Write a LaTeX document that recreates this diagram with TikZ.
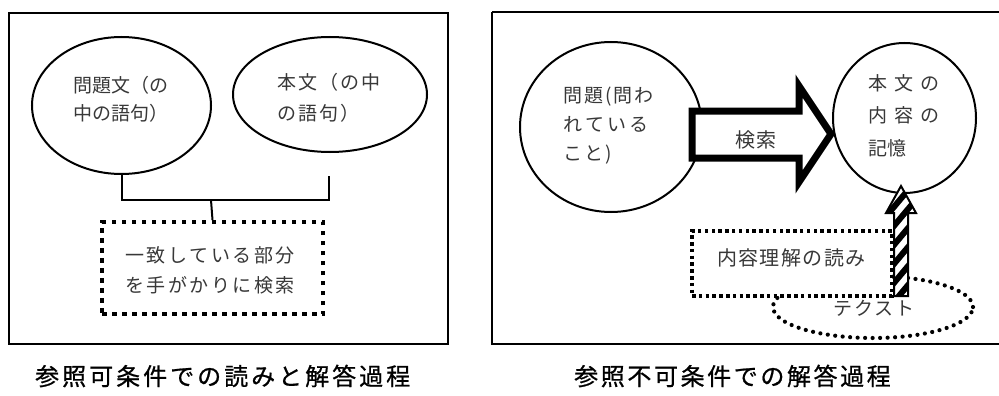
\documentclass[tikz,border=0pt]{standalone}
\usepackage{fontspec}
\setmainfont{Noto Sans CJK JP}
\newfontfamily\capfont[FakeBold=0.8]{Noto Sans CJK JP}
\usetikzlibrary{shapes.geometric}
\makeatletter
\newcommand\lsp[2]{\@tfor\lsp@c:=#2\do{\lsp@c\kern#1\relax}\unkern}
\makeatother
\tikzset{
  frame/.style={draw, line width=1.6pt},
  oval/.style={ellipse, draw, line width=2pt, inner sep=0pt, fill=white},
  lbl/.style={inner sep=0pt, align=left, text=black!78},
  sqdotbox/.style={rectangle, draw, line width=4pt, dash pattern=on 4.5pt off 5.5pt, fill=white, inner sep=0pt},
  smdotbox/.style={rectangle, draw, line width=3.5pt, dash pattern=on 3.5pt off 3.3pt, fill=white, inner sep=0pt},
  rnddots/.style={ellipse, draw, line width=4.2pt, line cap=round, dash pattern=on 0pt off 7.5pt, inner sep=0pt},
  wire/.style={draw, line width=2pt},
  caption/.style={inner sep=0pt, anchor=west, font=\capfont\fontsize{24}{24}\selectfont}
}
\begin{document}
\begin{tikzpicture}[x=1pt,y=-1pt]
\useasboundingbox (0,0) rectangle (999,396);
\fill[white] (0,0) rectangle (999,396);

% ---------- left panel ----------
\draw[frame] (9,13) rectangle (448,344);
\node[oval, minimum width=179pt, minimum height=137pt] (e1) at (121.5,105.5) {};
\node[oval, minimum width=194pt, minimum height=115pt] (e2) at (330,94.5) {};
\node[sqdotbox, minimum width=221pt, minimum height=92pt] (sb) at (212.5,268) {};
\coordinate (jn) at (211,200);
\coordinate (rt) at (329,176);
\draw[wire] (e1.south) |- (jn) -| (rt);
\draw[wire] (jn) -- (sb.north);

\node[lbl, anchor=west, font=\fontsize{19}{28}\selectfont] (t1) at (73,99)
  {\lsp{0pt}{問題文（の}\\\lsp{0pt}{中の語句）}};
\node[lbl, anchor=west, font=\fontsize{19}{31}\selectfont] (t2) at (277,97.5)
  {\lsp{2.2pt}{本文（の中}\\\lsp{2.2pt}{の語句）}};
\node[lbl, anchor=west, font=\fontsize{19}{30}\selectfont] (t3) at (125,270)
  {\lsp{2.5pt}{一致している部分}\\\lsp{2.5pt}{を手がかりに検索}};

\node[caption] (cap1) at (35,376) {\lsp{3pt}{参照可条件での読みと解答過程}};

% ---------- right panel ----------
\draw[frame] (492,12) -- (1010,12);
\draw[frame] (492,12) -- (492,344) -- (1010,344);
\node[oval, minimum width=182pt, minimum height=170pt] (c1) at (611,127) {};
\node[oval, minimum width=143pt, minimum height=150pt] (c2) at (904.5,118) {};

% big search arrow
\draw[line width=7pt, line join=miter, fill=white]
  (692,111) -- (799,111) -- (799,86) -- (831,134) -- (799,182) -- (799,158) -- (692,158) -- cycle;
\node[lbl, font=\fontsize{20}{20}\selectfont] (ks) at (756,140) {\lsp{1pt}{検索}};

% dotted ellipse (text)
\node[rnddots, minimum width=200pt, minimum height=62pt] (tx) at (873,307) {};
% dotted box
\node[smdotbox, minimum width=200pt, minimum height=65pt] (rb) at (792,263.5) {};
\node[lbl, anchor=west, font=\fontsize{20}{20}\selectfont] (t5) at (717,258) {\lsp{1.4pt}{内容理解の読み}};

% striped arrow
\fill[white] (894,296) -- (894,213) -- (886,213) -- (901,186) -- (916,213) -- (908,213) -- (908,296) -- cycle;
\begin{scope}
  \clip (894,296) -- (894,213) -- (886,213) -- (901,186) -- (916,213) -- (908,213) -- (908,296) -- cycle;
  \foreach \k in {0,...,10} {
    \draw[line width=6pt] (878,{188+\k*19}) -- (924,{188+\k*19-55});
  }
\end{scope}
\draw[line width=2pt, line join=miter] (894,296) -- (894,213) -- (886,213) -- (901,186) -- (916,213) -- (908,213) -- (908,296) -- cycle;

\node[lbl, font=\fontsize{19}{19}\selectfont] (t6) at (874,308) {\lsp{1.5pt}{テクスト}};

\node[lbl, anchor=west, font=\fontsize{19}{29}\selectfont] (t7) at (563,126)
  {\lsp{2pt}{問題(問わ}\\\lsp{3pt}{れている}\\\lsp{2pt}{こと)}};
\node[lbl, anchor=west, font=\fontsize{19}{32.5}\selectfont] (t8) at (868,115.5)
  {\lsp{7pt}{本文の}\\\lsp{7pt}{内容の}\\\lsp{0pt}{記憶}};

\node[caption] (cap2) at (574,376) {\lsp{2.6pt}{参照不可条件での解答過程}};
\end{tikzpicture}
\end{document}
